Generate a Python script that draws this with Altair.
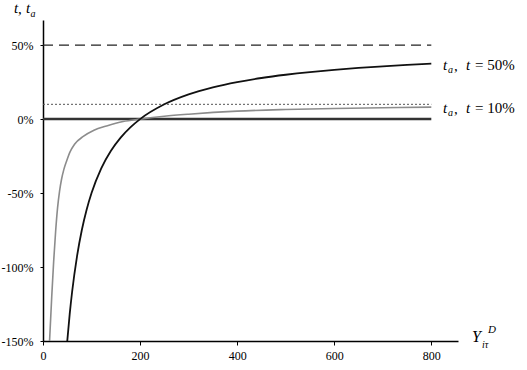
import altair as alt
import pandas as pd

# Curve for t = 50%
black_x = [50, 55, 60, 70, 80, 90, 100, 120, 140, 160, 180, 200, 250, 300, 350, 400, 450, 500, 550, 600, 650, 700, 750, 800]
black_y = [-150, -131.8, -116.7, -92.9, -75, -61.1, -50, -33.3, -21.4, -12.5, -5.6, 0, 10, 16.7, 21.4, 25, 27.8, 30, 31.8, 33.3, 34.6, 35.7, 36.7, 37.5]

# Curve for t = 10%
gray_x = [13.5, 18, 22, 26, 30, 34, 38, 43, 49, 56, 65, 83, 105, 131, 165, 200, 250, 300, 400, 500, 600, 700, 800]
gray_y = [-150, -120, -96, -76, -60, -49, -41, -34, -28, -22, -17, -11.7, -7.5, -4.6, -1.6, 0, 1.9, 3.3, 5.4, 6.5, 7.2, 7.7, 8.1]

# Reference levels
t_high = 50
t_low = 10
zero_level = 0
x_end = 800

x_ticks = [0, 200, 400, 600, 800]
y_ticks = [-150, -100, -50, 0, 50]

SERIF = "Liberation Serif"

xs = alt.Scale(domain=[0, 855], nice=False, zero=False)
ys = alt.Scale(domain=[-150, 67], nice=False, zero=False)

x_axis = alt.Axis(values=x_ticks, title=None, grid=False, labelFont=SERIF, labelFontSize=12,
                  labelColor="black", tickSize=4, tickColor="black", domainColor="black",
                  domainWidth=1.5, labelPadding=5, labelFlush=False)
y_axis = alt.Axis(values=y_ticks, title=None, grid=False, labelFont=SERIF, labelFontSize=12,
                  labelColor="black", tickSize=3, tickColor="black", domainColor="black",
                  domainWidth=1.5, labelPadding=7, labelExpr="datum.value + '%'")

df_black = pd.DataFrame({"x": black_x, "y": black_y})
df_gray = pd.DataFrame({"x": gray_x, "y": gray_y})

gray_line = alt.Chart(df_gray).mark_line(color="#8c8c8c", strokeWidth=1.6, interpolate="monotone", clip=True).encode(
    x=alt.X("x:Q", scale=xs, axis=x_axis),
    y=alt.Y("y:Q", scale=ys, axis=y_axis),
)
black_line = alt.Chart(df_black).mark_line(color="#111111", strokeWidth=1.8, interpolate="monotone", clip=True).encode(
    x=alt.X("x:Q", scale=xs),
    y=alt.Y("y:Q", scale=ys),
)

def hrule(level, **kw):
    return alt.Chart(pd.DataFrame({"y": [level], "x0": [0], "x1": [x_end]})).mark_rule(**kw).encode(
        x=alt.X("x0:Q", scale=xs), x2="x1:Q", y=alt.Y("y:Q", scale=ys)
    )

r50 = hrule(t_high, color="#222222", strokeWidth=1.2, strokeDash=[10, 6])
r10 = hrule(t_low, color="#555555", strokeWidth=1, strokeDash=[2, 2])
r0 = hrule(zero_level, color="#333333", strokeWidth=2.5)

one = pd.DataFrame({"a": [0]})

def txt(text, x, y, size=15, italic=False):
    return alt.Chart(one).mark_text(
        text=text, align="left", baseline="middle", font=SERIF, fontSize=size,
        fontStyle="italic" if italic else "normal", color="black"
    ).encode(x=alt.value(x), y=alt.value(y))

labels = [
    # top-left axis title: t, t_a
    txt("t", -29, -12, 15, True),
    txt(",", -25, -11, 15),
    txt("t", -17, -12, 15, True),
    txt("a", -12.5, -6, 10, True),
    # right labels: t_a, t = 50%
    txt("t", 400, 45, 15, True),
    txt("a", 405, 50, 10, True),
    txt(",", 411, 46, 15),
    txt("t", 423, 45, 15, True),
    txt("= 50%", 432, 45, 15),
    # t_a, t = 10%
    txt("t", 400, 88, 15, True),
    txt("a", 405, 93, 10, True),
    txt(",", 411, 89, 15),
    txt("t", 423, 88, 15, True),
    txt("= 10%", 432, 88, 15),
    # x-axis title Y_iτ^D
    txt("Y", 429, 317, 16, True),
    txt("iτ", 439, 325, 10, True),
    txt("D", 445, 310, 11, True),
]

chart = alt.layer(r50, r10, r0, gray_line, black_line, *labels).properties(
    width=415, height=321,
    autosize=alt.AutoSizeParams(type="none"),
    padding={"left": 43, "top": 20, "right": 69, "bottom": 29},
    background="white",
).configure_view(stroke=None)

chart.save("out.html", embed_options={"renderer": "svg", "actions": False})
